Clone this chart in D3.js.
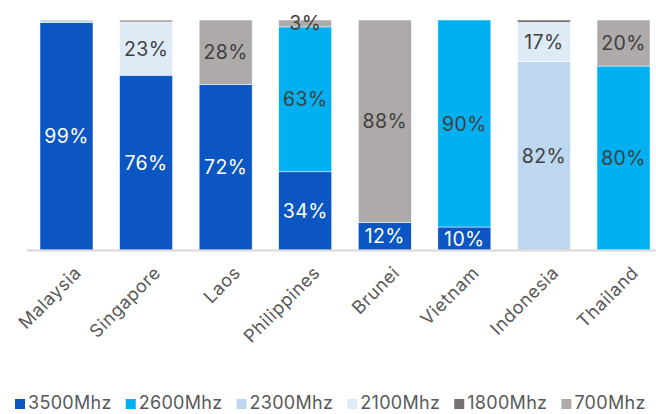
<!DOCTYPE html>
<html>
<head>
<meta charset="utf-8">
<script src="https://cdn.jsdelivr.net/npm/d3@7"></script>
<style>
  body { margin: 0; background: #fff; }
  svg { display: block; font-family: Inter, "Noto Sans", sans-serif; }
</style>
</head>
<body>
<svg id="chart" width="656" height="414"></svg>
<script>
// countries along the x axis
var countries = ["Malaysia", "Singapore", "Laos", "Philippines", "Brunei", "Vietnam", "Indonesia", "Thailand"];

// spectrum bands, stacked bottom to top
var bands = ["3500Mhz", "2600Mhz", "2300Mhz", "2100Mhz", "1800Mhz", "700Mhz"];
var bandColors = ["#0b56c2", "#00b0f0", "#bdd7ee", "#deebf7", "#767171", "#aeaaaa"];

// share (%) of each band per country, same order as countries
var v3500 = [99, 76, 72, 34, 12, 10, 0, 0];
var v2600 = [0, 0, 0, 63, 0, 90, 0, 80];
var v2300 = [1, 0, 0, 0, 0, 0, 82, 0];
var v2100 = [0, 23, 0, 0, 0, 0, 17, 0];
var v1800 = [0, 0, 0, 0, 0, 0, 1, 0];
var v700  = [0, 1, 28, 3, 88, 0, 0, 20];

var series = [v3500, v2600, v2300, v2100, v1800, v700];

// build rows for d3.stack
var rows = countries.map(function (c, i) {
  var r = { country: c };
  bands.forEach(function (b, j) { r[b] = series[j][i]; });
  return r;
});

var svg = d3.select("#chart");

var x = d3.scaleBand()
  .domain(countries)
  .range([26.7, 663.3])
  .paddingInner(0.334)
  .paddingOuter(0.167);

var y = d3.scaleLinear()
  .domain([0, 100])
  .range([250, 20]);

var color = d3.scaleOrdinal().domain(bands).range(bandColors);

var stacked = d3.stack().keys(bands)(rows);

// bar segments
var layer = svg.append("g")
  .selectAll("g")
  .data(stacked)
  .enter()
  .append("g")
  .attr("fill", function (d) { return color(d.key); });

layer.selectAll("rect")
  .data(function (d) { return d; })
  .enter()
  .append("rect")
  .attr("x", function (d) { return x(d.data.country); })
  .attr("width", x.bandwidth())
  .attr("y", function (d) { return y(d[1]); })
  .attr("height", function (d) { return y(d[0]) - y(d[1]); })
  .attr("stroke", "#fff")
  .attr("stroke-width", 0.5);

// x axis line
svg.append("line")
  .attr("x1", 27).attr("x2", 656)
  .attr("y1", 250.5).attr("y2", 250.5)
  .attr("stroke", "#d9d9d9")
  .attr("stroke-width", 2);

// percent labels (skip the 1% slivers)
var labels = [];
stacked.forEach(function (s) {
  s.forEach(function (p) {
    if (p[1] - p[0] >= 3) labels.push({ key: s.key, p: p });
  });
});

svg.append("g")
  .selectAll("text")
  .data(labels)
  .enter()
  .append("text")
  .attr("x", function (d) { return x(d.p.data.country) + x.bandwidth() / 2; })
  .attr("y", function (d) { return (y(d.p[0]) + y(d.p[1])) / 2; })
  .attr("dy", "0.36em")
  .attr("text-anchor", "middle")
  .attr("font-size", 19.5)
  .attr("letter-spacing", 0.4)
  .attr("fill", function (d) { return d.key === "3500Mhz" ? "#fff" : "#404040"; })
  .text(function (d) { return (d.p[1] - d.p[0]) + "%"; });

// rotated category labels
svg.append("g")
  .selectAll("text")
  .data(countries)
  .enter()
  .append("text")
  .attr("transform", function (d) {
    return "translate(" + (x(d) + x.bandwidth() / 2 + 7) + ",265) rotate(-45)";
  })
  .attr("text-anchor", "end")
  .attr("dy", "0.7em")
  .attr("font-size", 18)
  .attr("letter-spacing", 0.6)
  .attr("fill", "#595959")
  .text(function (d) { return d; });

// legend along the bottom
var legend = svg.append("g").attr("transform", "translate(15,409)");
var lx = 0;
bands.forEach(function (b) {
  var g = legend.append("g").attr("transform", "translate(" + lx + ",0)");
  g.append("rect")
    .attr("x", 0).attr("y", -10)
    .attr("width", 10).attr("height", 10)
    .attr("fill", color(b));
  var t = g.append("text")
    .attr("x", 13)
    .attr("font-size", 18)
    .attr("letter-spacing", 0.3)
    .attr("fill", "#595959")
    .text(b);
  lx += 13 + t.node().getComputedTextLength() + 14;
});
</script>
</body>
</html>
